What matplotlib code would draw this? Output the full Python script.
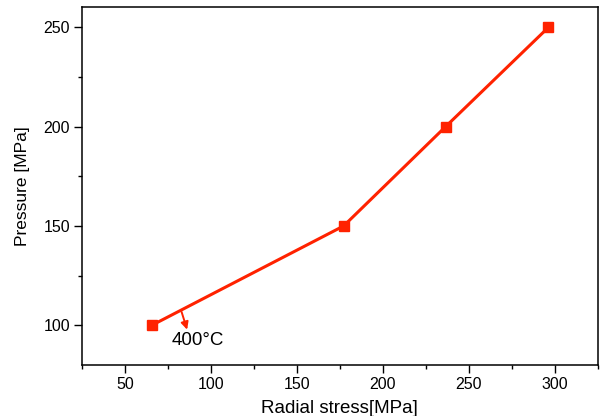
import matplotlib.pyplot as plt
from matplotlib.ticker import MultipleLocator

plt.rcParams['font.family'] = ['Liberation Sans', 'DejaVu Sans']

radial_stress = [65.7, 177.2, 236.5, 296.3]
pressure = [100, 150, 200, 250]
label_text = "400°C"

fig = plt.figure(figsize=(6.02, 4.16), dpi=100)
ax = fig.add_axes([0.136, 0.1226, 0.857, 0.8594])

ax.plot(radial_stress, pressure, color='#ff2200', linewidth=2.2,
        marker='s', markersize=6.5)

ax.set_xlim(25, 325)
ax.set_ylim(80, 260)
ax.xaxis.set_major_locator(MultipleLocator(50))
ax.xaxis.set_minor_locator(MultipleLocator(25))
ax.yaxis.set_major_locator(MultipleLocator(50))
ax.yaxis.set_minor_locator(MultipleLocator(25))
ax.tick_params(which='major', direction='out', length=5.5, width=1.0,
               labelsize=11.5, pad=3)
ax.tick_params(which='minor', direction='out', length=3, width=1.0)

for s in ax.spines.values():
    s.set_linewidth(1.1)

ax.set_xlabel("Radial stress[MPa]", fontsize=13.5, labelpad=6)
ax.set_ylabel("Pressure [MPa]", fontsize=12.5, labelpad=10)

ax.annotate("", xy=(86.2, 97.8), xytext=(83, 106.7),
            arrowprops=dict(arrowstyle='-|>', color='#ff2200', lw=1.4,
                            mutation_scale=11, shrinkA=0, shrinkB=0))
ax.text(77.1, 92.4, label_text, fontsize=13.5, ha='left', va='center')

fig.savefig("out.png", dpi=100)
